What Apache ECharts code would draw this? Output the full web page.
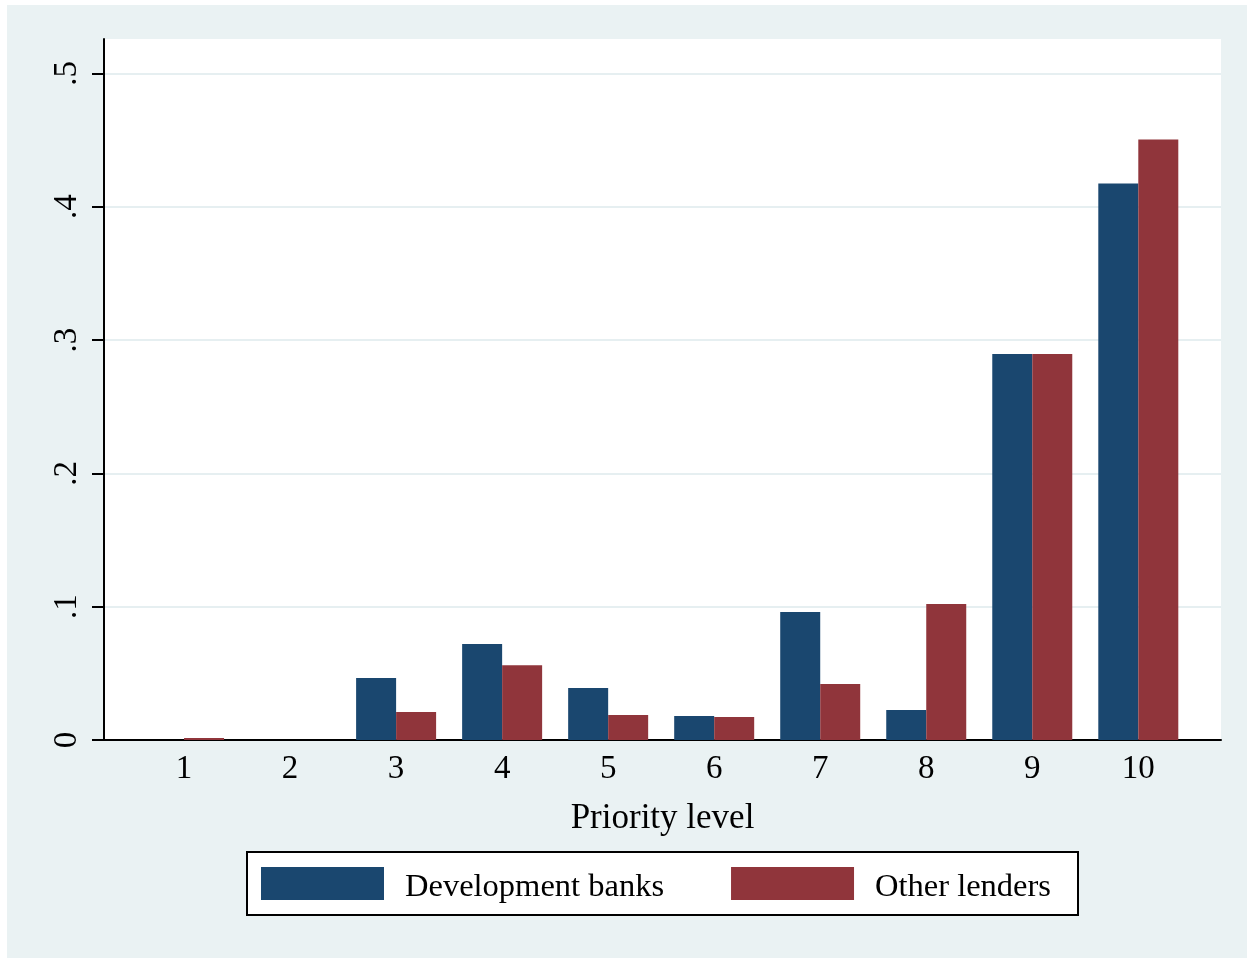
<!DOCTYPE html>
<html>
<head>
<meta charset="utf-8">
<script src="https://cdn.jsdelivr.net/npm/echarts@6/dist/echarts.min.js"></script>
<style>
  html, body { margin: 0; padding: 0; background: #ffffff; }
  .outer-bg {
    position: absolute;
    left: 7px;
    top: 5px;
    width: 1240px;
    height: 953px;
    background: #eaf2f3;
  }
  #chart {
    position: absolute;
    left: 0;
    top: 0;
    width: 1253px;
    height: 958px;
  }
</style>
</head>
<body>
<div class="outer-bg"></div>
<div id="chart"></div>
<script>
// priority levels on the x axis
const categories = [1, 2, 3, 4, 5, 6, 7, 8, 9, 10]
// share of responses per level
const devBanks = [0, 0, 0.0465, 0.072, 0.039, 0.018, 0.096, 0.0225, 0.2895, 0.4175]
const otherLenders = [0.0015, 0, 0.021, 0.056, 0.0187, 0.0172, 0.042, 0.102, 0.2895, 0.4505]
const yTicks = [0, 0.1, 0.2, 0.3, 0.4, 0.5]

const FONT = "'Liberation Serif', 'Times New Roman', serif"
const BLUE = '#1a476f'
const RED = '#90353b'

function formatShare(v) {
  if (v === 0) return '0'
  return String(Math.round(v * 10) / 10).replace(/^0/, '')
}

const chart = echarts.init(document.getElementById('chart'), null, { renderer: 'canvas' })

chart.setOption({
  animation: false,
  backgroundColor: 'transparent',
  textStyle: { fontFamily: FONT },
  grid: {
    left: 104,
    right: 32,
    top: 39,
    bottom: 218,
    show: true,
    backgroundColor: '#ffffff',
    borderWidth: 0
  },
  legend: {
    left: 247,
    top: 852,
    padding: [15, 27, 11, 14],
    backgroundColor: '#ffffff',
    borderColor: '#000000',
    borderWidth: 2,
    itemWidth: 123,
    itemHeight: 33,
    itemGap: 67,
    icon: 'rect',
    formatter: '{t|{name}}',
    textStyle: {
      fontFamily: FONT,
      fontSize: 32.5,
      color: '#000000',
      padding: [0, 0, 0, 16],
      rich: {
        t: {
          fontFamily: FONT,
          fontSize: 32.5,
          color: '#000000',
          lineHeight: 41,
          verticalAlign: 'bottom'
        }
      }
    },
    data: ['Development banks', 'Other lenders']
  },
  xAxis: {
    type: 'value',
    min: 0.245,
    max: 10.78,
    name: 'Priority level',
    nameLocation: 'middle',
    nameGap: 61,
    nameTextStyle: { fontFamily: FONT, fontSize: 35, color: '#000000' },
    axisLine: { show: true, lineStyle: { color: '#000000', width: 2 } },
    axisTick: { show: false },
    splitLine: { show: false },
    axisLabel: {
      customValues: categories,
      fontFamily: FONT,
      fontSize: 33,
      color: '#000000',
      margin: 13,
      formatter: (v) => String(v)
    }
  },
  yAxis: {
    type: 'value',
    min: 0,
    max: 0.5258,
    axisLine: { show: true, lineStyle: { color: '#000000', width: 2 } },
    axisTick: {
      show: true,
      customValues: yTicks,
      length: 12,
      lineStyle: { color: '#000000', width: 2 }
    },
    splitLine: {
      show: true,
      lineStyle: { color: '#e6eff1', width: 2 }
    },
    axisLabel: {
      customValues: yTicks,
      rotate: 90,
      margin: 20,
      fontFamily: FONT,
      fontSize: 33,
      color: '#000000',
      formatter: (v) => formatShare(v)
    }
  },
  series: [
    {
      name: 'Development banks',
      type: 'bar',
      barWidth: 40,
      barGap: '0%',
      itemStyle: { color: BLUE },
      data: categories.map((c, i) => [c, devBanks[i]])
    },
    {
      name: 'Other lenders',
      type: 'bar',
      barWidth: 40,
      barGap: '0%',
      itemStyle: { color: RED },
      data: categories.map((c, i) => [c, otherLenders[i]])
    }
  ]
})
</script>
</body>
</html>
